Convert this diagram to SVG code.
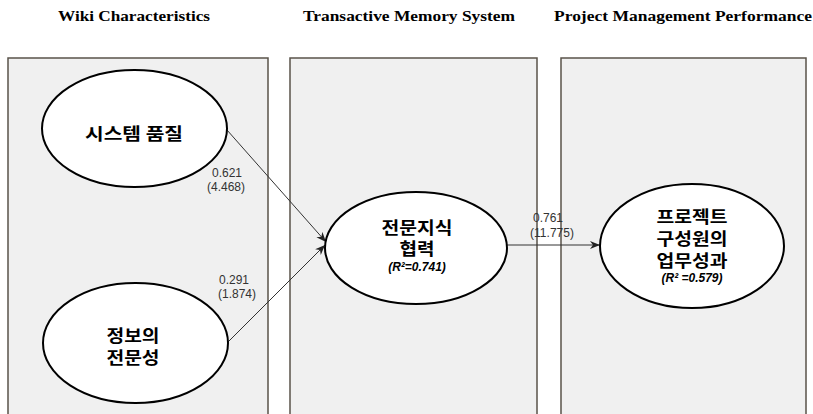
<svg xmlns="http://www.w3.org/2000/svg" width="813" height="414" viewBox="0 0 813 414">
<style>
.title{font-family:"Liberation Serif","Times New Roman",serif;font-weight:bold;font-size:15px;fill:#000;text-anchor:middle}
.panel{fill:#f0f0f0;stroke:#5a534a;stroke-width:1.5}
.node ellipse{fill:#fff;stroke:#000;stroke-width:2}
.kr{font-family:"Noto Sans CJK KR","Noto Sans",sans-serif;font-weight:bold;font-size:17px;fill:#000;text-anchor:middle}
.r2{font-family:"Liberation Sans",Arial,sans-serif;font-weight:bold;font-style:italic;font-size:12px;fill:#000;text-anchor:middle}
.lbl{font-family:"Liberation Sans",Arial,sans-serif;font-size:12px;fill:#333;text-anchor:middle}
.conn{stroke:#333;stroke-width:1;fill:none;marker-end:url(#arr)}
</style>
<defs>
<marker id="arr" viewBox="0 0 10 10" refX="10" refY="5" markerWidth="10" markerHeight="10" markerUnits="userSpaceOnUse" orient="auto">
<path d="M0,1 L10,5 L0,9 L3,5 Z" fill="#222"/>
</marker>
</defs>
<rect width="813" height="414" fill="#fff"/>
<g id="titles">
<text class="title" x="134" y="21" textLength="152" lengthAdjust="spacingAndGlyphs">Wiki Characteristics</text>
<text class="title" x="409" y="21" textLength="212" lengthAdjust="spacingAndGlyphs">Transactive Memory System</text>
<text class="title" x="683" y="21" textLength="258" lengthAdjust="spacingAndGlyphs">Project Management Performance</text>
</g>
<g id="panels">
<rect class="panel" x="8" y="58" width="260" height="370"/>
<rect class="panel" x="290" y="58" width="247" height="370"/>
<rect class="panel" x="561" y="58" width="245" height="370"/>
</g>
<g id="connectors">
<line class="conn" x1="227" y1="130" x2="326" y2="242"/>
<line class="conn" x1="228" y1="342" x2="325" y2="245"/>
<line class="conn" x1="507" y1="245" x2="600" y2="245"/>
<text class="lbl" x="227" y="177">0.621</text>
<text class="lbl" x="226" y="191">(4.468)</text>
<text class="lbl" x="234" y="284">0.291</text>
<text class="lbl" x="237" y="298">(1.874)</text>
<text class="lbl" x="548" y="222">0.761</text>
<text class="lbl" x="552" y="237">(11.775)</text>
</g>
<g id="n1" class="node">
<ellipse cx="134.5" cy="128.5" rx="92.5" ry="58.5"/>
<text class="kr" x="134" y="140" textLength="98" lengthAdjust="spacingAndGlyphs">시스템 품질</text>
</g>
<g id="n2" class="node">
<ellipse cx="135.5" cy="343" rx="92.5" ry="60"/>
<text class="kr" x="133" y="342" textLength="53" lengthAdjust="spacingAndGlyphs">정보의</text>
<text class="kr" x="133" y="364" textLength="53" lengthAdjust="spacingAndGlyphs">전문성</text>
</g>
<g id="n3" class="node">
<ellipse cx="416" cy="248" rx="91" ry="56"/>
<text class="kr" x="417" y="234" textLength="71" lengthAdjust="spacingAndGlyphs">전문지식</text>
<text class="kr" x="417" y="255" textLength="35" lengthAdjust="spacingAndGlyphs">협력</text>
<text class="r2" x="417" y="271">(R²=0.741)</text>
</g>
<g id="n4" class="node">
<ellipse cx="692" cy="246" rx="92" ry="62"/>
<text class="kr" x="692" y="223" textLength="71" lengthAdjust="spacingAndGlyphs">프로젝트</text>
<text class="kr" x="692" y="245" textLength="71" lengthAdjust="spacingAndGlyphs">구성원의</text>
<text class="kr" x="692" y="267" textLength="71" lengthAdjust="spacingAndGlyphs">업무성과</text>
<text class="r2" x="692" y="282">(R² =0.579)</text>
</g>
</svg>
